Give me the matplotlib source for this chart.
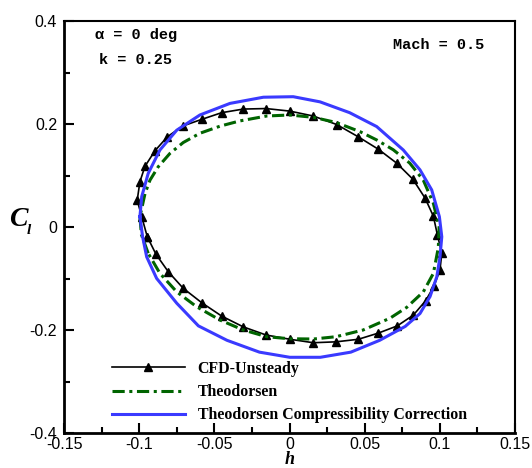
import matplotlib
matplotlib.use('Agg')
import matplotlib.pyplot as plt
import numpy as np

# CFD-Unsteady loop (h, Cl)
cfd_h = [-0.0946, -0.0983, -0.1013, -0.0995, -0.0961, -0.0895, -0.0813, -0.0711,
         -0.0584, -0.0451, -0.0307, -0.0156, 0.0003, 0.0158, 0.0314, 0.0458,
         0.0591, 0.0713, 0.0820, 0.0902, 0.0957, 0.0984, 0.1013, 0.1001,
         0.0961, 0.0906, 0.0824, 0.0717, 0.0591, 0.0458, 0.0309, 0.0158,
         0.0003, -0.0156, -0.0307, -0.0451, -0.0584, -0.0707, -0.0806, -0.0888,
         -0.0946]
cfd_cl = [-0.019, 0.020, 0.052, 0.088, 0.118, 0.148, 0.175, 0.196,
          0.209, 0.222, 0.229, 0.230, 0.225, 0.2155, 0.199, 0.175,
          0.151, 0.124, 0.093, 0.056, 0.021, -0.0155, -0.051, -0.0835,
          -0.1146, -0.143, -0.171, -0.192, -0.206, -0.218, -0.223, -0.2247,
          -0.218, -0.2097, -0.194, -0.173, -0.147, -0.119, -0.087, -0.053,
          -0.019]

# Theodorsen loop
theo_h = [-0.094, -0.0985, -0.0995, -0.0961, -0.0928, -0.0873, -0.0795, -0.0707,
          -0.0596, -0.046, -0.033, -0.0152, 0.0, 0.0158, 0.031, 0.047,
          0.058, 0.069, 0.080, 0.089, 0.0957, 0.0995, 0.099, 0.0957,
          0.089, 0.078, 0.0669, 0.049, 0.031, 0.016, 0.0, -0.0152,
          -0.0307, -0.046, -0.0617, -0.075, -0.0862, -0.094]
theo_cl = [-0.051, -0.015, 0.020, 0.065, 0.091, 0.117, 0.143, 0.164,
           0.182, 0.196, 0.206, 0.2155, 0.2175, 0.213, 0.203, 0.185,
           0.169, 0.150, 0.124, 0.091, 0.046, 0.0, -0.040, -0.090,
           -0.126, -0.156, -0.177, -0.200, -0.213, -0.2175, -0.217, -0.213,
           -0.200, -0.181, -0.155, -0.126, -0.090, -0.051]

# Theodorsen with compressibility correction
comp_h = [-0.0995, -0.0983, -0.094, -0.0862, -0.075, -0.0596, -0.0396, -0.0174,
          0.0025, 0.0203, 0.040, 0.058, 0.0757, 0.0868, 0.0946, 0.0997,
          0.1013, 0.1001, 0.098, 0.0935, 0.0868, 0.077, 0.060, 0.0408,
          0.0205, 0.0002, -0.020, -0.0416, -0.0606, -0.075, -0.0884, -0.095,
          -0.0977, -0.0995]
comp_cl = [0.020, 0.059, 0.104, 0.1495, 0.188, 0.2175, 0.240, 0.252,
           0.253, 0.243, 0.222, 0.195, 0.1495, 0.111, 0.072, 0.020,
           -0.019, -0.058, -0.0965, -0.135, -0.168, -0.193, -0.220, -0.243,
           -0.253, -0.253, -0.243, -0.220, -0.192, -0.148, -0.0997, -0.058,
           -0.019, 0.020]

W, H = 532, 468
fig = plt.figure(figsize=(W / 100, H / 100), dpi=100)
ax = fig.add_axes([64 / W, 1 - 433 / H, 451 / W, 412 / H])

ax.plot(cfd_h, cfd_cl, color='black', linewidth=1.2, marker='^', markersize=6,
        label='CFD-Unsteady')
ax.plot(theo_h, theo_cl, color='#006400', linewidth=2.2, dashes=[4, 1.5, 1, 1.5],
        label='Theodorsen')
ax.plot(comp_h, comp_cl, color='#3a3aff', linewidth=2.2,
        label='Theodorsen Compressibility Correction')

ax.set_xlim(-0.15, 0.15)
ax.set_ylim(-0.4, 0.4)
ax.set_xticks(np.arange(-0.15, 0.151, 0.05))
ax.set_xticks(np.arange(-0.15, 0.151, 0.025), minor=True)
ax.set_yticks([-0.4, -0.2, 0, 0.2, 0.4])
ax.set_yticks(np.arange(-0.4, 0.41, 0.1), minor=True)
ax.set_xticklabels(['-0.15', '-0.1', '-0.05', '0', '0.05', '0.1', '0.15'])
ax.set_yticklabels(['-0.4', '-0.2', '0', '0.2', '0.4'])

tick_font = 'Liberation Sans'
for lab in ax.get_xticklabels() + ax.get_yticklabels():
    lab.set_fontfamily(tick_font)
    lab.set_fontsize(11.5)
ax.tick_params(which='both', direction='in', top=False, right=False, width=1.5)
ax.tick_params(which='major', length=7)
ax.tick_params(which='minor', length=4)
ax.tick_params(axis='x', pad=3)
ax.tick_params(axis='y', pad=5)

for side in ['left', 'bottom']:
    ax.spines[side].set_linewidth(2.0)
for side in ['top', 'right']:
    ax.spines[side].set_linewidth(1.5)

# axis labels
fig.text(290 / W, 1 - 460 / H, 'h', fontfamily='Liberation Serif', fontweight='bold',
         fontstyle='italic', fontsize=13, ha='center', va='center')
fig.text(18 / W, 1 - 220 / H, 'C', fontfamily='Liberation Serif', fontweight='bold',
         fontstyle='italic', fontsize=20, ha='center', va='center')
fig.text(29 / W, 1 - 231 / H, 'l', fontfamily='Liberation Serif', fontweight='bold',
         fontstyle='italic', fontsize=11, ha='center', va='center')

# annotations
mono = dict(fontfamily=['Liberation Mono', 'DejaVu Sans Mono'], fontweight='bold',
            fontsize=11, va='center', ha='left')
fig.text(95 / W, 1 - 35 / H, '\u03b1 = 0 deg', **mono)
fig.text(99 / W, 1 - 60 / H, 'k = 0.25', **mono)
fig.text(393 / W, 1 - 45 / H, 'Mach = 0.5', **mono)

leg = ax.legend(loc='upper left', bbox_to_anchor=((112 - 64) / 451, (433 - 361) / 412),
                frameon=False, borderpad=0, borderaxespad=0, handlelength=4.6,
                handletextpad=0.8, labelspacing=0.45, numpoints=1,
                prop={'family': 'Liberation Serif', 'weight': 'bold', 'size': 11.4})

fig.savefig('out.png', dpi=100)
